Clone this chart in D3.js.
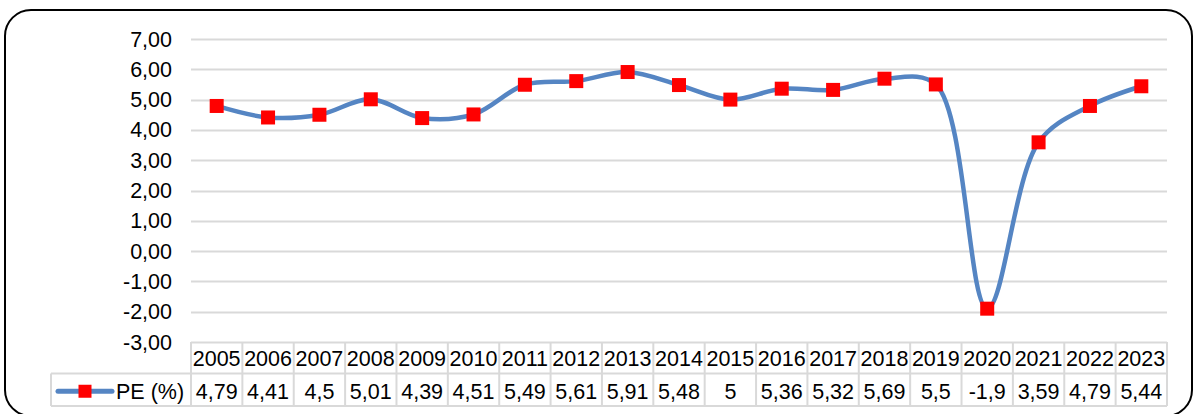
<!DOCTYPE html>
<html>
<head>
<meta charset="utf-8">
<script src="https://cdn.jsdelivr.net/npm/d3@7"></script>
<style>
  body { margin: 0; background: #fff; }
  text { font-family: "Liberation Sans", Arial, sans-serif; fill: #000; }
</style>
</head>
<body>
<div id="chart"></div>
<script>
// Datos
const years = ['2005', '2006', '2007', '2008', '2009', '2010', '2011', '2012', '2013', '2014',
               '2015', '2016', '2017', '2018', '2019', '2020', '2021', '2022', '2023'];
const pe = [4.79, 4.41, 4.5, 5.01, 4.39, 4.51, 5.49, 5.61, 5.91, 5.48,
            5, 5.36, 5.32, 5.69, 5.5, -1.9, 3.59, 4.79, 5.44];
const yTicks = [7, 6, 5, 4, 3, 2, 1, 0, -1, -2, -3];
const seriesName = 'PE (%)';

const width = 1194;
const height = 414;
const plot = { left: 191, right: 1167, top: 39, bottom: 342 };
const rowH = 31.5;
const fontSize = 21.5;

const svg = d3.select("#chart")
    .append("svg")
    .attr("width", width)
    .attr("height", height);

// Marco redondeado
svg.append("rect")
    .attr("x", 5).attr("y", 10)
    .attr("width", 1187).attr("height", 406)
    .attr("rx", 26).attr("ry", 26)
    .attr("fill", "none")
    .attr("stroke", "#000")
    .attr("stroke-width", 2);

// Escalas
const x = d3.scaleBand()
    .domain(years)
    .range([plot.left, plot.right]);

const y = d3.scaleLinear()
    .domain([-3, 7])
    .range([plot.bottom, plot.top]);

const locale = d3.formatLocale({ decimal: ",", thousands: ".", grouping: [3], currency: ["", ""], minus: "-" });
const fmt = locale.format(".2f");

// Líneas de cuadrícula
svg.append("g")
    .selectAll("line")
    .data(yTicks)
    .enter()
    .append("line")
    .attr("x1", plot.left)
    .attr("x2", plot.right)
    .attr("y1", d => Math.round(y(d)) + 0.5)
    .attr("y2", d => Math.round(y(d)) + 0.5)
    .attr("stroke", "#d9d9d9")
    .attr("stroke-width", 2);

// Etiquetas del eje Y
svg.append("g")
    .selectAll("text")
    .data(yTicks)
    .enter()
    .append("text")
    .attr("x", 172)
    .attr("y", d => y(d))
    .attr("dy", "0.35em")
    .attr("text-anchor", "end")
    .style("font-size", fontSize + "px")
    .text(d => fmt(d));

// Tabla de datos
const tTop = y(-3);
const table = svg.append("g")
    .attr("stroke", "#d9d9d9")
    .attr("stroke-width", 2);

// horizontales
table.append("line")
    .attr("x1", 51).attr("x2", plot.right)
    .attr("y1", tTop + rowH).attr("y2", tTop + rowH);
table.append("line")
    .attr("x1", 51).attr("x2", plot.right)
    .attr("y1", tTop + 2 * rowH + 1).attr("y2", tTop + 2 * rowH + 1);
// verticales
table.selectAll(".v")
    .data(years.concat(['end']))
    .enter()
    .append("line")
    .attr("x1", (d, i) => plot.left + i * x.bandwidth())
    .attr("x2", (d, i) => plot.left + i * x.bandwidth())
    .attr("y1", tTop)
    .attr("y2", tTop + 2 * rowH + 1);
table.append("line")
    .attr("x1", 51).attr("x2", 51)
    .attr("y1", tTop + rowH).attr("y2", tTop + 2 * rowH + 1);

svg.append("g")
    .selectAll("text")
    .data(years)
    .enter()
    .append("text")
    .attr("x", d => x(d) + x.bandwidth() / 2)
    .attr("y", tTop + rowH / 2 + 1)
    .attr("dy", "0.35em")
    .attr("text-anchor", "middle")
    .style("font-size", fontSize + "px")
    .text(d => d);

svg.append("g")
    .selectAll("text")
    .data(pe)
    .enter()
    .append("text")
    .attr("x", (d, i) => x(years[i]) + x.bandwidth() / 2)
    .attr("y", tTop + rowH * 1.5 + 2)
    .attr("dy", "0.35em")
    .attr("text-anchor", "middle")
    .style("font-size", fontSize + "px")
    .text(d => String(d).replace(".", ","));

// Leyenda en la tabla
const legY = tTop + rowH * 1.5 + 2;
svg.append("line")
    .attr("x1", 58).attr("x2", 112)
    .attr("y1", legY).attr("y2", legY)
    .attr("stroke", "#5585c3")
    .attr("stroke-width", 5)
    .attr("stroke-linecap", "round");
svg.append("rect")
    .attr("x", 85 - 6.5).attr("y", legY - 6.5)
    .attr("width", 13).attr("height", 13)
    .attr("fill", "#ff0000");
svg.append("text")
    .attr("x", 116)
    .attr("y", legY)
    .attr("dy", "0.35em")
    .style("font-size", fontSize + "px")
    .text(seriesName);

// Línea suavizada
const line = d3.line()
    .x((d, i) => x(years[i]) + x.bandwidth() / 2)
    .y(d => y(d))
    .curve(d3.curveCatmullRom.alpha(0.5));

svg.append("path")
    .datum(pe)
    .attr("d", line)
    .attr("fill", "none")
    .attr("stroke", "#5585c3")
    .attr("stroke-width", 4.5)
    .attr("stroke-linecap", "round");

// Marcadores
svg.append("g")
    .selectAll("rect")
    .data(pe)
    .enter()
    .append("rect")
    .attr("x", (d, i) => x(years[i]) + x.bandwidth() / 2 - 7)
    .attr("y", d => y(d) - 7)
    .attr("width", 14)
    .attr("height", 14)
    .attr("fill", "#ff0000");
</script>
</body>
</html>
